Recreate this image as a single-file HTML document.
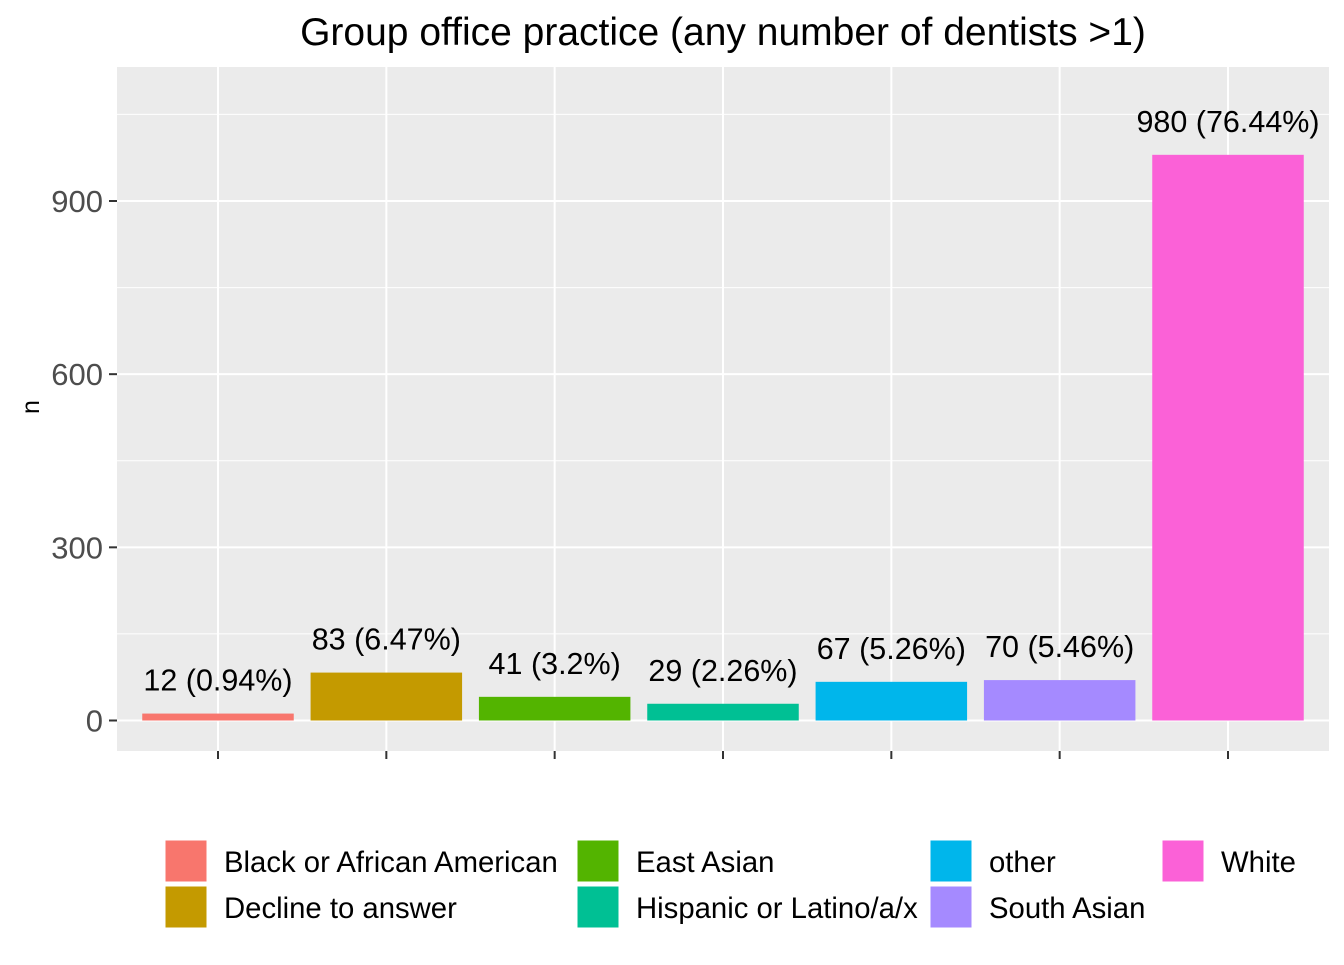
<!DOCTYPE html>
<html><head><meta charset="utf-8"><style>
body{margin:0;background:#fff;width:1344px;height:960px;overflow:hidden;font-family:"Liberation Sans",Arial,sans-serif}
</style></head><body>
<svg id="chart" width="1344" height="960" xmlns="http://www.w3.org/2000/svg" font-family="Liberation Sans, Arial, sans-serif">
<text x="723" y="45" font-size="39" text-anchor="middle" fill="#000">Group office practice (any number of dentists &gt;1)</text>
<rect x="117" y="67" width="1212" height="684" fill="#ebebeb"/>
<g id="grid"></g><g id="bars"></g><g id="axes"></g>
<text transform="translate(39,407) rotate(-90)" font-size="25" text-anchor="middle" fill="#000">n</text>
<g id="legend"></g>
</svg>
<script>
const categories=["Black or African American","Decline to answer","East Asian","Hispanic or Latino/a/x","other","South Asian","White"];
const values=[12,83,41,29,67,70,980];
const labels=["12 (0.94%)","83 (6.47%)","41 (3.2%)","29 (2.26%)","67 (5.26%)","70 (5.46%)","980 (76.44%)"];
const colors=["#F8766D","#C49A00","#53B400","#00C094","#00B6EB","#A58AFF","#FB61D7"];
const yTicks=[0,300,600,900];
const yMinor=[150,450,750,1050];
const NS="http://www.w3.org/2000/svg";
const pL=117,pW=1212,y0=720.5,k=(720.5-201)/900;
const yS=v=>y0-v*k;
const step=pW/(categories.length+0.2);
const xS=i=>pL+step*(0.6+i);
const bw=step*0.9;
function mk(p,t,a){const e=document.createElementNS(NS,t);for(const q in a)e.setAttribute(q,a[q]);p.appendChild(e);return e;}
const grid=document.getElementById('grid'),bars=document.getElementById('bars'),axes=document.getElementById('axes'),leg=document.getElementById('legend');
yMinor.forEach(v=>{const l=mk(grid,'line',{x1:pL,x2:pL+pW,y1:yS(v),y2:yS(v),stroke:'#fff','stroke-width':1});

});
yTicks.forEach(v=>{const l=mk(grid,'line',{x1:pL,x2:pL+pW,y1:yS(v),y2:yS(v),stroke:'#fff','stroke-width':2});


const t=mk(axes,'line',{x1:109,x2:117,y1:yS(v),y2:yS(v),stroke:'#333','stroke-width':2});


const tx=mk(axes,'text',{x:103,y:yS(v)+11,'font-size':31,'text-anchor':'end',fill:'#4d4d4d'});tx.textContent=v;

});
categories.forEach((c,i)=>{const x=xS(i);
const g=mk(grid,'line',{x1:x,x2:x,y1:67,y2:751,stroke:'#fff','stroke-width':2});


const t=mk(axes,'line',{x1:x,x2:x,y1:751,y2:759,stroke:'#333','stroke-width':2});


const b=mk(bars,'rect',{x:x-bw/2,y:yS(values[i]),width:bw,height:y0-yS(values[i]),fill:colors[i]});


const l=mk(bars,'text',{x:x,y:yS(values[i])-23,'font-size':30.5,'text-anchor':'middle',fill:'#000'});l.textContent=labels[i];

});
const lx=[165,577,930,1162];
categories.forEach((c,i)=>{const col=Math.floor(i/2),row=i%2;
const x=lx[col],y=840+row*46;
const r=mk(leg,'rect',{x:x,y:y,width:42,height:42,fill:colors[i],stroke:'#fff','stroke-width':1});


const t=mk(leg,'text',{x:x+59,y:y+32,'font-size':29.3,fill:'#000'});t.textContent=c;

});
</script>
</body></html>
